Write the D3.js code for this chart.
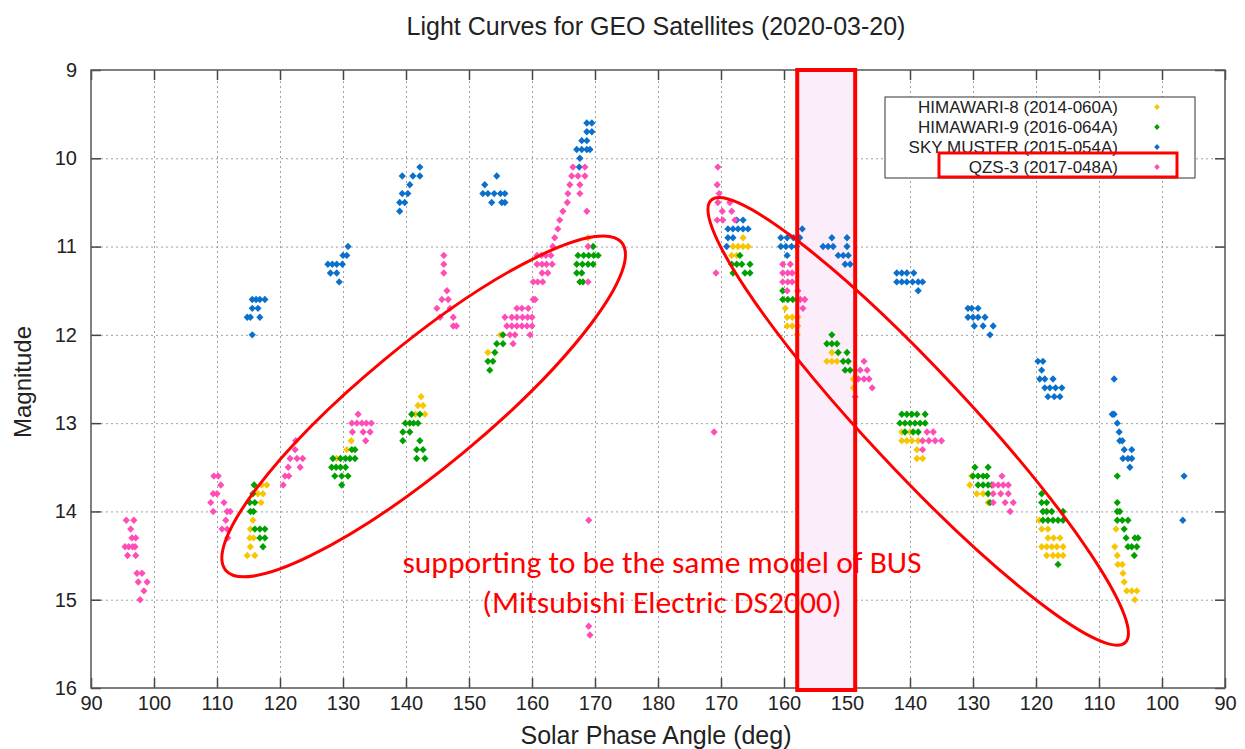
<!DOCTYPE html>
<html>
<head>
<meta charset="utf-8">
<script src="https://cdn.jsdelivr.net/npm/d3@7"></script>
<style>
  body { margin: 0; background: #fff; }
  text { font-family: "Liberation Sans", Arial, sans-serif; }
</style>
</head>
<body>
<div class="plot"></div>
<script>
// x is the unrolled phase-angle track: 90..180 going up, then 180..270 shown as 180..90
const xTicks = d3.range(90, 271, 10);
const yTicks = [9, 10, 11, 12, 13, 14, 15, 16];

const seriesNames = ["HIMAWARI-8 (2014-060A)", "HIMAWARI-9 (2016-064A)", "SKY MUSTER (2015-054A)", "QZS-3 (2017-048A)"];
const seriesColors = ["#f7c600", "#00a000", "#0a70cc", "#ff4db6"];

const himawari8 = [
  [117.1,13.7],[117.9,13.7],[116.5,13.8],[117.3,13.8],[117.0,13.9],[115.7,14.1],[115.3,14.2],[115.2,14.3],[115.8,14.3],[115.3,14.4],[114.8,14.5],[116.0,14.5],
  [131.3,13.2],[130.6,13.3],[129.0,13.4],
  [142.4,12.7],[141.9,12.8],[142.7,12.8],[141.5,12.9],[143.0,12.9],
  [155.0,12.0],[153.0,12.2],
  [168.9,10.9],
  [193.5,10.9],[191.9,11.0],[192.7,11.0],[193.5,11.0],[194.3,11.0],[191.7,11.1],[192.5,11.1],
  [200.2,11.7],[200.5,11.8],[201.3,11.8],[202.2,11.8],[200.5,11.9],[201.3,11.9],[202.2,11.9],[202.1,12.0],
  [207.6,12.2],[206.8,12.3],[207.6,12.3],[208.4,12.3],[211.0,12.5],[211.0,12.6],
  [218.7,13.1],[220.0,13.1],[218.7,13.2],[219.5,13.2],[220.3,13.2],[221.3,13.2],[221.1,13.3],[221.1,13.4],[222.0,13.4],
  [229.8,13.6],[229.5,13.7],[230.6,13.8],[231.6,13.8],[232.4,13.9],
  [240.5,14.1],[240.9,14.2],[241.9,14.2],[241.9,14.3],[242.8,14.3],[243.8,14.3],[240.9,14.4],[241.7,14.4],[242.5,14.4],[243.3,14.4],[244.3,14.4],
  [241.7,14.5],[242.7,14.5],[243.5,14.5],[244.3,14.5],
  [252.7,14.2],[252.5,14.4],[252.9,14.5],[253.0,14.6],[253.7,14.6],[253.8,14.7],[254.0,14.8],[254.4,14.9],[255.2,14.9],[256.0,14.9],[255.7,15.0]
];

const himawari9 = [
  [115.9,13.7],[115.7,13.8],[115.2,13.9],[116.0,13.9],[115.3,14.0],[115.8,14.0],[116.0,14.2],[116.8,14.2],[117.6,14.2],[116.8,14.3],[117.6,14.3],[117.3,14.4],
  [131.4,13.3],[131.9,13.3],[128.4,13.4],[129.6,13.4],[130.4,13.4],[131.1,13.4],[131.9,13.4],[128.2,13.5],[128.9,13.5],[129.6,13.5],[130.4,13.5],
  [128.7,13.6],[129.8,13.6],[130.8,13.6],[129.8,13.7],
  [140.9,12.9],[142.2,12.9],[139.9,13.0],[140.6,13.0],[141.2,13.0],[141.9,13.0],[139.5,13.1],[140.6,13.1],[139.5,13.2],[142.2,13.2],
  [141.7,13.3],[142.7,13.3],[141.7,13.4],[143.0,13.4],
  [155.4,12.0],[154.4,12.1],[155.4,12.1],[154.1,12.2],[153.0,12.3],[153.8,12.3],[153.3,12.4],
  [169.7,11.0],[167.3,11.1],[168.2,11.1],[169.0,11.1],[169.8,11.1],[170.5,11.1],[167.1,11.2],[168.0,11.2],[168.9,11.2],[169.7,11.2],
  [167.1,11.3],[167.9,11.3],[167.6,11.4],[168.1,11.4],
  [193.0,11.1],[191.7,11.2],[192.5,11.2],[193.3,11.2],[194.6,11.2],[191.9,11.3],[193.8,11.3],[194.6,11.3],
  [199.8,11.5],[199.8,11.6],[200.6,11.6],[201.4,11.6],[202.2,11.6],
  [207.6,12.0],[206.8,12.1],[207.6,12.1],[208.4,12.1],[208.6,12.2],[210.0,12.2],[209.4,12.3],[210.2,12.3],[209.7,12.4],[210.5,12.4],
  [218.7,12.9],[219.5,12.9],[220.3,12.9],[221.1,12.9],[222.4,12.9],[218.4,13.0],[219.2,13.0],[220.0,13.0],[220.8,13.0],[221.6,13.0],[222.4,13.0],
  [219.2,13.1],[220.5,13.1],[221.3,13.1],
  [230.3,13.5],[232.4,13.5],[230.0,13.6],[230.8,13.6],[231.6,13.6],[232.2,13.6],[230.8,13.7],[231.6,13.7],[232.4,13.7],[233.0,13.7],[232.4,13.8],[232.7,13.9],
  [240.9,13.8],[240.9,13.9],[241.7,13.9],[241.1,14.0],[241.7,14.0],[242.5,14.0],[244.3,14.0],[241.1,14.1],[241.9,14.1],[242.7,14.1],[243.5,14.1],[244.3,14.1],[243.5,14.6],
  [252.9,13.6],
  [252.9,13.9],[252.9,14.0],[253.3,14.0],[252.9,14.1],[253.7,14.1],[254.6,14.1],[254.0,14.2],[254.3,14.3],[255.7,14.3],[256.2,14.3],
  [254.6,14.4],[255.2,14.4],[256.0,14.4],[255.6,14.5]
];

const skyMuster = [
  [115.6,11.6],[116.2,11.6],[116.8,11.6],[117.6,11.6],[115.6,11.7],[116.5,11.7],[114.8,11.8],[115.3,11.8],[116.8,11.8],[115.6,12.0],
  [130.8,11.0],[130.0,11.1],[130.6,11.1],[127.6,11.2],[128.3,11.2],[129.0,11.2],[129.9,11.2],[128.0,11.3],[129.0,11.3],[129.4,11.4],
  [142.2,10.1],[139.4,10.2],[141.1,10.2],[142.2,10.2],[140.6,10.3],[139.4,10.4],[140.3,10.4],[139.0,10.5],[139.8,10.5],[139.0,10.6],
  [154.4,10.2],[152.5,10.3],[152.2,10.4],[153.0,10.4],[154.0,10.4],[155.0,10.4],[155.7,10.4],[153.6,10.5],[155.2,10.5],[155.7,10.5],
  [168.7,9.6],[169.5,9.6],[168.7,9.7],[169.5,9.7],[167.9,9.8],[168.7,9.8],[167.1,9.9],[167.9,9.9],[168.7,9.9],[169.2,9.9],[167.6,10.0],[167.5,10.1],
  [192.5,10.7],[193.5,10.7],[191.1,10.8],[191.9,10.8],[192.7,10.8],[193.5,10.8],[194.3,10.8],[191.1,10.9],[191.9,10.9],[190.9,11.0],
  [202.9,10.8],[199.5,10.9],[200.5,10.9],[201.5,10.9],[202.5,10.9],[199.5,11.0],[200.3,11.0],[201.2,11.0],[202.0,11.0],[200.5,11.1],
  [207.6,10.9],[210.0,10.9],[206.2,11.0],[207.0,11.0],[207.8,11.0],[210.0,11.0],[208.6,11.1],[209.4,11.1],[210.2,11.1],[209.7,11.2],[210.5,11.2],
  [217.9,11.3],[218.7,11.3],[219.5,11.3],[220.6,11.3],[217.9,11.4],[218.7,11.4],[219.5,11.4],[220.4,11.4],[221.3,11.4],[222.0,11.4],[221.3,11.5],
  [229.2,11.7],[229.8,11.7],[230.8,11.7],[229.2,11.8],[230.0,11.8],[230.8,11.8],[231.9,11.8],[230.2,11.9],[231.6,11.9],[233.2,11.9],[232.7,12.0],
  [240.3,12.3],[241.1,12.3],[240.9,12.4],[240.6,12.5],[241.4,12.5],[242.7,12.5],[241.4,12.6],[242.2,12.6],[243.1,12.6],[244.1,12.6],
  [241.9,12.7],[242.9,12.7],[243.8,12.7],
  [252.4,12.5],[252.1,12.9],[252.4,12.9],[252.9,13.0],[253.2,13.1],[253.3,13.2],[253.7,13.2],[254.0,13.3],[255.2,13.3],[253.8,13.4],[254.6,13.4],[255.2,13.4],[254.9,13.5],
  [263.5,13.6],[263.3,14.1]
];

const qzs3 = [
  [95.6,14.1],[96.8,14.1],[96.3,14.2],[96.5,14.3],[97.1,14.3],[95.4,14.4],[96.0,14.4],[96.6,14.4],[97.0,14.4],[95.8,14.5],[97.1,14.5],
  [97.3,14.7],[98.1,14.7],[97.5,14.8],[98.9,14.8],[98.4,14.9],[97.8,15.0],
  [109.5,13.6],[110.2,13.6],[110.6,13.7],[109.4,13.8],[110.0,13.8],[109.0,13.9],[111.1,13.9],[109.4,14.0],[111.6,14.0],[112.1,14.0],[111.4,14.1],
  [110.8,14.2],[111.6,14.2],[111.7,14.3],
  [122.5,13.2],[122.4,13.3],[121.6,13.4],[122.7,13.4],[123.6,13.4],[121.3,13.5],[123.2,13.5],[120.8,13.6],[121.4,13.6],[120.5,13.7],
  [132.4,12.9],[131.4,13.0],[132.2,13.0],[133.0,13.0],[133.7,13.0],[134.5,13.0],[131.5,13.1],[133.2,13.1],[134.3,13.1],[133.6,13.2],
  [146.0,11.1],[146.0,11.2],[146.0,11.3],[146.5,11.5],[145.7,11.6],[146.7,11.6],[144.9,11.7],[147.0,11.7],[145.4,11.8],[147.5,11.8],[147.5,11.9],[148.0,11.9],
  [160.2,11.6],[157.6,11.7],[158.4,11.7],[159.4,11.7],[155.7,11.8],[156.8,11.8],[157.6,11.8],[158.5,11.8],[159.3,11.8],[160.0,11.8],
  [156.0,11.9],[156.8,11.9],[157.6,11.9],[158.4,11.9],[159.2,11.9],[160.0,11.9],[156.5,12.0],[157.3,12.0],[159.7,12.0],[157.0,12.1],
  [166.5,10.1],[168.4,10.1],[166.3,10.2],[167.3,10.2],[168.4,10.2],[166.0,10.3],[167.6,10.3],[165.7,10.4],[167.6,10.4],[165.6,10.5],
  [164.9,10.6],[168.7,10.6],[164.4,10.7],[164.1,10.8],[163.6,10.9],[163.3,11.0],[168.9,11.0],
  [160.8,11.1],[161.5,11.1],[162.2,11.1],[163.0,11.1],[160.8,11.2],[161.6,11.2],[162.3,11.2],[163.2,11.2],[161.6,11.3],[162.5,11.3],
  [160.2,11.4],[160.9,11.4],[161.7,11.4],[160.5,11.6],[168.9,11.4],
  [169.0,14.1],[169.0,15.3],[169.2,15.4],
  [189.5,10.1],[189.4,10.3],[189.7,10.4],[189.5,10.5],[191.4,10.5],[190.2,10.6],[191.7,10.6],[189.4,10.7],[190.3,10.7],[192.2,10.7],[189.2,11.3],
  [188.9,13.1],
  [199.8,11.2],[201.0,11.2],[199.8,11.3],[200.6,11.3],[201.3,11.3],[199.8,11.4],[200.6,11.4],[201.3,11.4],[200.5,11.5],[202.2,11.5],
  [202.6,11.6],[203.3,11.6],[203.0,11.7],
  [212.7,12.3],[212.1,12.4],[213.2,12.4],[211.8,12.5],[212.7,12.5],[213.5,12.5],[214.0,12.6],[211.3,12.7],
  [222.7,13.1],[223.7,13.1],[222.0,13.2],[223.0,13.2],[224.0,13.2],[225.0,13.2],[222.0,13.3],
  [234.6,13.6],[233.2,13.7],[234.0,13.7],[234.8,13.7],[235.6,13.7],[233.2,13.8],[234.4,13.8],[235.6,13.8],[233.2,13.9],[235.1,13.9],[236.4,13.9],[235.9,14.0]
];

const allSeries = [himawari8, himawari9, skyMuster, qzs3];

// annotation geometry in data units
const highlightBand = [211.3, 202.1];   // pink band, labels ~149 to ~158
const ellipse1 = { cx: 142.8, cy: 12.81 };
const ellipse2 = { cx: 221.3, cy: 12.98 };

const width = 1245,
    height = 749,
    margin = { top: 70, right: 20, bottom: 61, left: 91 },
    innerWidth = width - margin.left - margin.right,
    innerHeight = height - margin.top - margin.bottom;

const root = d3.select(".plot").append("svg")
    .attr("width", width)
    .attr("height", height);

const svg = root.append("g")
    .attr("transform", "translate(" + margin.left + "," + margin.top + ")");

const xScale = d3.scaleLinear().domain([90, 270]).range([0, innerWidth]);
const yScale = d3.scaleLinear().domain([9, 16]).range([0, innerHeight]);

const fmtX = function(d) { return d <= 180 ? d : 360 - d; };

// grid
svg.append("g")
    .attr("class", "grid")
    .attr("transform", "translate(0," + innerHeight + ")")
    .call(d3.axisBottom(xScale).tickValues(xTicks.slice(1, -1)).tickSize(-innerHeight).tickFormat(""));
svg.append("g")
    .attr("class", "grid")
    .call(d3.axisLeft(yScale).tickValues(yTicks.slice(1, -1)).tickSize(-innerWidth).tickFormat(""));
svg.selectAll(".grid .domain").remove();
svg.selectAll(".grid line")
    .attr("stroke", "#a0a0a0")
    .attr("stroke-width", 1)
    .attr("stroke-dasharray", "2,3");

// axes with inward ticks (mirrored)
const xAxis = svg.append("g")
    .attr("transform", "translate(0," + innerHeight + ")")
    .call(d3.axisBottom(xScale).tickValues(xTicks).tickFormat(fmtX).tickSize(-10).tickPadding(8));
const xTop = svg.append("g")
    .call(d3.axisTop(xScale).tickValues(xTicks).tickFormat("").tickSize(-10));
const yAxis = svg.append("g")
    .call(d3.axisLeft(yScale).tickValues(yTicks).tickFormat(d3.format("d")).tickSize(-10).tickPadding(14));
const yRight = svg.append("g")
    .attr("transform", "translate(" + innerWidth + ",0)")
    .call(d3.axisRight(yScale).tickValues(yTicks).tickFormat("").tickSize(-10));

[xAxis, xTop, yAxis, yRight].forEach(function(g) {
    g.select(".domain").remove();
    g.attr("font-size", 20).attr("font-family", "Liberation Sans, Arial, sans-serif");
    g.selectAll("line").attr("stroke", "#444").attr("stroke-width", 1.5);
    g.selectAll("text").attr("fill", "#222");
});

svg.append("rect")
    .attr("width", innerWidth)
    .attr("height", innerHeight)
    .attr("fill", "none")
    .attr("stroke", "#555")
    .attr("stroke-width", 1.5);

// highlighted band (behind points)
svg.append("rect")
    .attr("x", xScale(highlightBand[1]))
    .attr("y", 0)
    .attr("width", xScale(highlightBand[0]) - xScale(highlightBand[1]))
    .attr("height", innerHeight + 2)
    .attr("fill", "#fcedfa");

// points
const diamond = "M0,-3.7L3.6,0L0,3.7L-3.6,0Z";
allSeries.forEach(function(data, i) {
    svg.append("g").selectAll("path").data(data).enter()
        .append("path")
        .attr("d", diamond)
        .attr("transform", function(d) { return "translate(" + xScale(d[0]) + "," + yScale(d[1]) + ")"; })
        .attr("fill", seriesColors[i]);
});

// band outline on top
svg.append("rect")
    .attr("x", xScale(highlightBand[1]))
    .attr("y", 0)
    .attr("width", xScale(highlightBand[0]) - xScale(highlightBand[1]))
    .attr("height", innerHeight + 2)
    .attr("fill", "none")
    .attr("stroke", "#ff0000")
    .attr("stroke-width", 4);

// ellipses
svg.append("ellipse")
    .attr("cx", xScale(ellipse1.cx)).attr("cy", yScale(ellipse1.cy))
    .attr("rx", 257).attr("ry", 61)
    .attr("transform", "rotate(-39.6," + xScale(ellipse1.cx) + "," + yScale(ellipse1.cy) + ")")
    .attr("fill", "none").attr("stroke", "#ff0000").attr("stroke-width", 3);
svg.append("ellipse")
    .attr("cx", xScale(ellipse2.cx)).attr("cy", yScale(ellipse2.cy))
    .attr("rx", 303).attr("ry", 50)
    .attr("transform", "rotate(46.9," + xScale(ellipse2.cx) + "," + yScale(ellipse2.cy) + ")")
    .attr("fill", "none").attr("stroke", "#ff0000").attr("stroke-width", 3);

// annotation text
const note = svg.append("text")
    .attr("text-anchor", "middle")
    .attr("fill", "#ff0000")
    .attr("font-size", 31.6)
    .style("font-family", "Carlito, Lato, 'Open Sans', sans-serif");
note.append("tspan").attr("x", 662 - margin.left).attr("y", 573 - margin.top)
    .text("supporting to be the same model of BUS");
note.append("tspan").attr("x", 662 - margin.left).attr("y", 613 - margin.top)
    .text("(Mitsubishi Electric DS2000)");

// legend
const legend = svg.append("g").attr("transform", "translate(" + (885 - margin.left) + "," + (97 - margin.top) + ")");
legend.append("rect")
    .attr("width", 310).attr("height", 81)
    .attr("fill", "#fff").attr("stroke", "#333").attr("stroke-width", 1);
seriesNames.forEach(function(name, i) {
    const yy = 10 + i * 20;
    legend.append("text")
        .attr("x", 233).attr("y", yy)
        .attr("dy", "0.35em")
        .attr("text-anchor", "end")
        .attr("font-size", 17)
        .attr("fill", "#222")
        .text(name);
    legend.append("path")
        .attr("d", "M0,-3L2.8,0L0,3L-2.8,0Z")
        .attr("transform", "translate(272," + yy + ")")
        .attr("fill", seriesColors[i]);
});
legend.append("rect")
    .attr("x", 54).attr("y", 56)
    .attr("width", 238).attr("height", 24)
    .attr("fill", "none").attr("stroke", "#ff0000").attr("stroke-width", 3);

// titles
root.append("text")
    .attr("x", 656).attr("y", 35)
    .attr("text-anchor", "middle")
    .attr("font-size", 25)
    .attr("fill", "#222")
    .text("Light Curves for GEO Satellites (2020-03-20)");

root.append("text")
    .attr("x", 656).attr("y", 744)
    .attr("text-anchor", "middle")
    .attr("font-size", 25)
    .attr("fill", "#222")
    .text("Solar Phase Angle (deg)");

root.append("text")
    .attr("transform", "translate(31,382) rotate(-90)")
    .attr("text-anchor", "middle")
    .attr("font-size", 24)
    .attr("fill", "#222")
    .text("Magnitude");
</script>
</body>
</html>
